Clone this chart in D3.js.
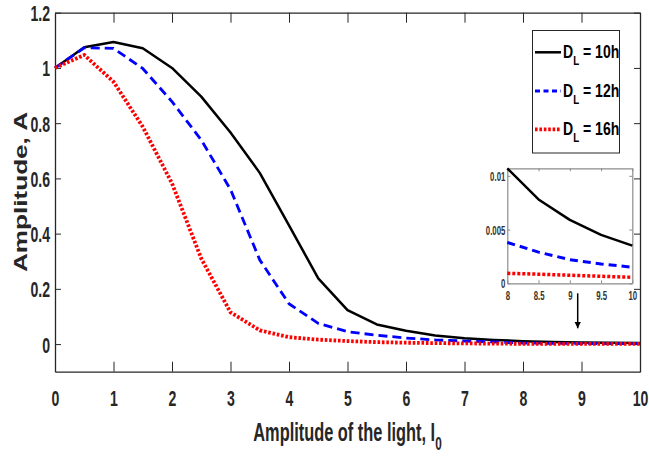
<!DOCTYPE html>
<html><head><meta charset="utf-8">
<script src="https://cdn.jsdelivr.net/npm/d3@7"></script>
<style>
html,body{margin:0;padding:0;background:#fff;}
svg{display:block;font-family:"Liberation Sans",Arial,sans-serif;font-weight:bold;}
</style></head>
<body><svg id="c" width="649" height="456"></svg>
<script>
// ---------- data ----------
const lightAmp = [0,0.5,1,1.5,2,2.5,3,3.5,4,4.5,5,5.5,6,6.5,7,7.5,8,8.5,9,9.5,10];
const amp10h = [1.0,1.075,1.094,1.071,1.0,0.896,0.766,0.62,0.43,0.238,0.123,0.071,0.048,0.031,0.021,0.015,0.0107,0.0078,0.0059,0.0045,0.0035];
const amp12h = [1.0,1.073,1.071,0.998,0.878,0.739,0.56,0.305,0.146,0.075,0.045,0.032,0.022,0.015,0.011,0.0075,0.0038,0.0029,0.0022,0.0018,0.0015];
const amp16h = [1.0,1.047,0.95,0.787,0.582,0.31,0.115,0.05,0.025,0.016,0.011,0.007,0.005,0.0035,0.0025,0.0018,0.00093,0.00085,0.00075,0.00065,0.00056];
const seriesNames = ["10h","12h","16h"];
const xTicks = [0,1,2,3,4,5,6,7,8,9,10];
const yTicks = [0,0.2,0.4,0.6,0.8,1,1.2];
const insetXTicks = [8,8.5,9,9.5,10];
const insetYTicks = [0,0.005,0.01];
const xLabel = "Amplitude of the light, I";
const xLabelSub = "0";
const yLabel = "Amplitude, A";

const svg = d3.select("#c");
const AX = "#262626";
const styles = [
  {color:"#000000", width:2.5, dash:null, legDash:null},
  {color:"#0000ff", width:2.8, dash:"9,5", legDash:"5,3.5"},
  {color:"#ff0000", width:3.8, dash:"2.6,1.8", legDash:"2.6,1.8"}
];
const data = [amp10h, amp12h, amp16h];

// ---------- main axes ----------
const L=55, R=640, T=12.7, B=371.7;
const x = d3.scaleLinear().domain([0,10]).range([L,R]);
const y = d3.scaleLinear().domain([-0.1,1.2]).range([B,T]);
const SX = 0.64;

function styleAxis(g){
  g.select(".domain").attr("stroke",AX).attr("stroke-width",1.3);
  g.selectAll(".tick line").attr("stroke",AX).attr("stroke-width",1);
}
const gx = svg.append("g").attr("transform",`translate(0,${B})`)
  .call(d3.axisBottom(x).tickValues(xTicks).tickSizeInner(-10).tickSizeOuter(0).tickFormat(d3.format("d")));
styleAxis(gx);
gx.selectAll(".tick text").attr("y",34).attr("dy",0).attr("font-size",22).attr("font-family","Liberation Sans, Arial")
  .attr("font-weight","bold").attr("fill","#262626").attr("transform",`scale(${SX},1)`);

const gy = svg.append("g").attr("transform",`translate(${L},0)`)
  .call(d3.axisLeft(y).tickValues(yTicks).tickSizeInner(-6).tickSizeOuter(0).tickFormat(d=>d===0||d===1?String(d):d3.format(".1f")(d)));
styleAxis(gy);
gy.selectAll(".tick text").attr("x",-5/SX).attr("dy","0.36em").attr("font-size",22).attr("font-family","Liberation Sans, Arial")
  .attr("font-weight","bold").attr("fill","#262626").attr("transform",`scale(${SX},1)`);

const gt = svg.append("g").attr("transform",`translate(0,${T})`)
  .call(d3.axisTop(x).tickValues(xTicks).tickSizeInner(-10).tickSizeOuter(0).tickFormat(""));
styleAxis(gt);
const gr = svg.append("g").attr("transform",`translate(${R},0)`)
  .call(d3.axisRight(y).tickValues(yTicks).tickSizeInner(-6).tickSizeOuter(0).tickFormat(""));
styleAxis(gr);

// ---------- curves ----------
const line = d3.line().x((d,i)=>x(lightAmp[i])).y(d=>y(d));
data.forEach((s,k)=>{
  svg.append("path").datum(s).attr("d",line).attr("fill","none")
    .attr("stroke",styles[k].color).attr("stroke-width",styles[k].width)
    .attr("stroke-dasharray",styles[k].dash).attr("stroke-linejoin","round");
});

// ---------- axis labels ----------
const xl = svg.append("g").attr("transform",`translate(${(L+R)/2},441) scale(0.655,1)`)
  .append("text").attr("text-anchor","middle").attr("font-size",25).attr("fill","#262626");
xl.append("tspan").text(xLabel);
xl.append("tspan").attr("font-size",18).attr("dy",9).text(xLabelSub);

svg.append("text").attr("transform","translate(26.5,192) rotate(-90)")
  .attr("text-anchor","middle").attr("font-size",19).attr("fill","#262626")
  .attr("textLength",160).attr("lengthAdjust","spacingAndGlyphs").text(yLabel);

// ---------- legend ----------
const leg = svg.append("g");
leg.append("rect").attr("x",532.5).attr("y",30.5).attr("width",87).attr("height",122.5)
  .attr("fill","#fff").attr("stroke",AX).attr("stroke-width",1);
const legY = [52.3,91,129.3];
seriesNames.forEach((n,k)=>{
  leg.append("line").attr("x1",535).attr("x2",561).attr("y1",legY[k]).attr("y2",legY[k])
    .attr("stroke",styles[k].color).attr("stroke-width",styles[k].width)
    .attr("stroke-dasharray",styles[k].legDash);
  const t = leg.append("g").attr("transform",`translate(563,${legY[k]+6}) scale(0.78,1)`)
    .append("text").attr("font-size",18).attr("fill","#000");
  t.append("tspan").text("D");
  t.append("tspan").attr("font-size",12.5).attr("dy",7).text("L");
  t.append("tspan").attr("dy",-7).text(" = " + n);
});

// ---------- inset ----------
const iL=507.3, iR=632.3, iT=168.3, iB=283.3;
const xi = d3.scaleLinear().domain([8,10]).range([iL,iR]);
const yi = d3.scaleLinear().domain([0,0.0107]).range([iB,iT]);
const ins = svg.append("g");
ins.append("rect").attr("x",iL).attr("y",iT).attr("width",iR-iL).attr("height",iB-iT).attr("fill","#fff");
const IC = "#8c8c8c";
function styleInset(g){
  g.select(".domain").attr("stroke",IC).attr("stroke-width",1.2);
  g.selectAll(".tick line").attr("stroke",IC).attr("stroke-width",1);
}
const SXi = 0.6;
const gix = ins.append("g").attr("transform",`translate(0,${iB})`)
  .call(d3.axisBottom(xi).tickValues(insetXTicks).tickSizeInner(-3).tickSizeOuter(0).tickFormat(d=>String(d)));
styleInset(gix);
gix.selectAll(".tick text").attr("y",16.5).attr("dy",0).attr("font-size",13).attr("font-family","Liberation Sans, Arial")
  .attr("font-weight","bold").attr("fill","#333").attr("transform",`scale(${SXi},1)`);
const giy = ins.append("g").attr("transform",`translate(${iL},0)`)
  .call(d3.axisLeft(yi).tickValues(insetYTicks).tickSizeInner(-3).tickSizeOuter(0).tickFormat(d=>String(d)));
styleInset(giy);
giy.selectAll(".tick text").attr("x",-2/SXi).attr("dy","0.36em").attr("font-size",13).attr("font-family","Liberation Sans, Arial")
  .attr("font-weight","bold").attr("fill","#333").attr("transform",`scale(${SXi},1)`);
const git = ins.append("g").attr("transform",`translate(0,${iT})`)
  .call(d3.axisTop(xi).tickValues(insetXTicks).tickSizeInner(-3).tickSizeOuter(0).tickFormat(""));
styleInset(git);
const gir = ins.append("g").attr("transform",`translate(${iR},0)`)
  .call(d3.axisRight(yi).tickValues(insetYTicks).tickSizeInner(-3).tickSizeOuter(0).tickFormat(""));
styleInset(gir);

const startIdx = lightAmp.indexOf(8);
const lineI = d3.line().x(d=>xi(d[0])).y(d=>yi(d[1]));
data.forEach((s,k)=>{
  const pts = lightAmp.slice(startIdx).map((v,i)=>[v, s[startIdx+i]]);
  ins.append("path").datum(pts).attr("d",lineI).attr("fill","none")
    .attr("stroke",styles[k].color).attr("stroke-width",k===2?3.5:(k===1?3:2.5))
    .attr("stroke-dasharray",k===1?"8,5":(k===2?"3,2":null)).attr("stroke-linejoin","round");
});

// ---------- arrow ----------
svg.append("defs").append("marker").attr("id","ah").attr("viewBox","0 0 10 10")
  .attr("refX",10).attr("refY",5).attr("markerWidth",6.5).attr("markerHeight",13)
  .attr("markerUnits","userSpaceOnUse").attr("orient","auto")
  .append("path").attr("d","M0,0 L10,5 L0,10 Z").attr("fill","#000");
svg.append("line").attr("x1",577.7).attr("x2",577.7).attr("y1",293.3).attr("y2",328.3)
  .attr("stroke","#000").attr("stroke-width",1.5).attr("marker-end","url(#ah)");
</script></body></html>
